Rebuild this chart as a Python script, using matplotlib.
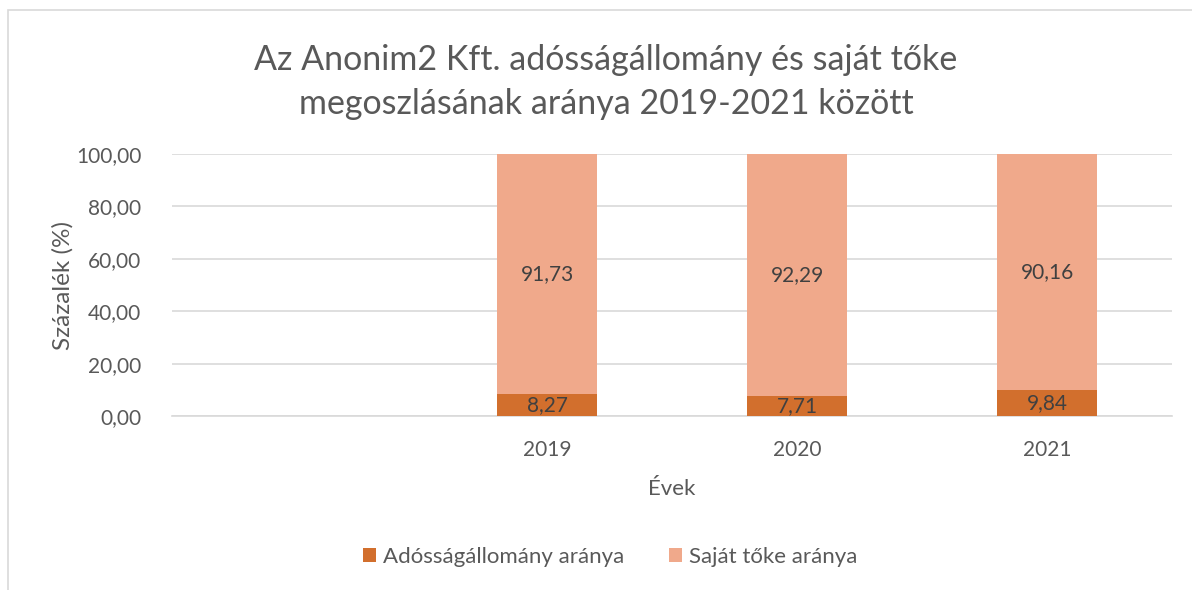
import matplotlib.pyplot as plt
import numpy as np
from matplotlib.patches import Rectangle

plt.rcParams['font.family'] = ['Lato', 'DejaVu Sans']

years = ['2019', '2020', '2021']
debt_share = [8.27, 7.71, 9.84]
equity_share = [91.73, 92.29, 90.16]
yticks = [0, 20, 40, 60, 80, 100]

text_col = '#595959'
debt_col = '#D26F2D'
equity_col = '#F0A98B'

fig = plt.figure(figsize=(11.92, 5.90), dpi=100)
# outer chart frame
fig.patches.append(Rectangle((8 / 1192, -0.01), 1.0, 1 - 10 / 590 + 0.01,
                             transform=fig.transFigure, fill=False,
                             edgecolor='#D9D9D9', linewidth=1.2))

ax = fig.add_axes([172 / 1192, 1 - 416 / 590, 1000 / 1192, 262 / 590])

# first category slot is empty in the original
x = np.arange(1, len(years) + 1)
width = 0.4
b1 = ax.bar(x, debt_share, width, color=debt_col, label='Adósságállomány aránya', zorder=3)
b2 = ax.bar(x, equity_share, width, bottom=debt_share, color=equity_col,
            label='Saját tőke aránya', zorder=3)

def fmt(v):
    return f'{v:.2f}'.replace('.', ',')

for bars in (b1, b2):
    ax.bar_label(bars, labels=[fmt(b.get_height()) for b in bars], label_type='center',
                 fontsize=15, color='#404040')

ax.set_xlim(-0.5, 3.5)
ax.set_ylim(0, 100)
ax.set_xticks(x)
ax.set_xticklabels(years)
ax.set_yticks(yticks)
ax.set_yticklabels([fmt(v) for v in yticks])
ax.tick_params(axis='both', length=0, labelsize=15, colors=text_col)
ax.tick_params(axis='x', pad=17)
ax.tick_params(axis='y', pad=22)
ax.yaxis.grid(True, color='#D9D9D9', linewidth=1.2, zorder=0)
for s in ['top', 'right', 'left']:
    ax.spines[s].set_visible(False)
ax.spines['bottom'].set_color('#D9D9D9')
ax.spines['bottom'].set_linewidth(1.2)

ax.set_xlabel('Évek', fontsize=16, color=text_col, labelpad=14)
ax.set_ylabel('Százalék (%)', fontsize=17.5, color=text_col, labelpad=2)

fig.suptitle('Az Anonim2 Kft. adósságállomány és saját tőke\nmegoszlásának aránya 2019-2021 között',
             x=606 / 1192, y=0.925, fontsize=24.5, color=text_col,
             linespacing=1.45)

fig.legend(handles=[b1, b2], loc='center', bbox_to_anchor=(610 / 1192, 1 - 557 / 590), ncol=2,
           frameon=False, fontsize=16, labelcolor=text_col, handlelength=0.6,
           handleheight=0.6, handletextpad=0.3, columnspacing=2.0)

fig.savefig('out.png', dpi=100)
